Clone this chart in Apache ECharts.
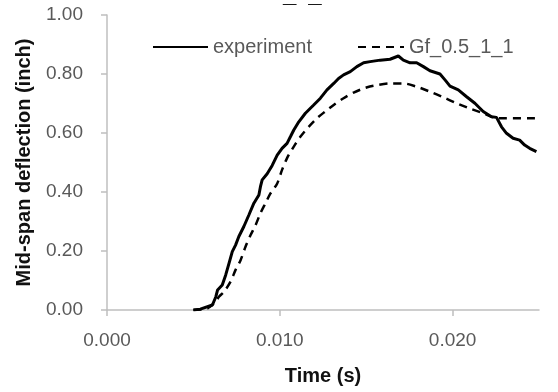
<!DOCTYPE html>
<html>
<head>
<meta charset="utf-8">
<script src="https://cdn.jsdelivr.net/npm/echarts@6/dist/echarts.min.js"></script>
<style>
html,body{margin:0;padding:0;background:#fff;}
#chart{width:558px;height:392px;}
</style>
</head>
<body>
<div id="chart"></div>
<script>
// Time (s) and mid-span deflection (inch)
var expTime = [0.0050, 0.0054, 0.0061, 0.0063, 0.0064, 0.00667, 0.00687, 0.00706, 0.00725, 0.00744, 0.00763, 0.00792, 0.00821, 0.0085, 0.00879, 0.00888, 0.00898, 0.00927, 0.00956, 0.00985, 0.01013, 0.01042, 0.01062, 0.01081, 0.0111, 0.01148, 0.01196, 0.01235, 0.01273, 0.01312, 0.0134, 0.01369, 0.01408, 0.01446, 0.01485, 0.01523, 0.01581, 0.01638, 0.01686, 0.01715, 0.01754, 0.01792, 0.01831, 0.01869, 0.01927, 0.01956, 0.01985, 0.02033, 0.02081, 0.02129, 0.02177, 0.02225, 0.02254, 0.02283, 0.02312, 0.0235, 0.02388, 0.02417, 0.02446, 0.02485];
var expDefl = [0.000, 0.003, 0.017, 0.045, 0.068, 0.085, 0.119, 0.158, 0.198, 0.220, 0.249, 0.283, 0.322, 0.362, 0.390, 0.418, 0.441, 0.462, 0.490, 0.525, 0.548, 0.565, 0.588, 0.610, 0.638, 0.667, 0.695, 0.718, 0.746, 0.768, 0.785, 0.797, 0.808, 0.825, 0.838, 0.842, 0.847, 0.850, 0.861, 0.847, 0.838, 0.838, 0.825, 0.811, 0.800, 0.780, 0.759, 0.746, 0.723, 0.701, 0.673, 0.655, 0.653, 0.621, 0.599, 0.582, 0.576, 0.559, 0.548, 0.537];
var gfTime = [0.0050, 0.0058, 0.0063, 0.00648, 0.00677, 0.00715, 0.00744, 0.00773, 0.00802, 0.00831, 0.0086, 0.00888, 0.00917, 0.00946, 0.00985, 0.01013, 0.01042, 0.01081, 0.0112, 0.01167, 0.01215, 0.01263, 0.01312, 0.01369, 0.01427, 0.01485, 0.01542, 0.01638, 0.01715, 0.01792, 0.01869, 0.01946, 0.02023, 0.021, 0.02177, 0.02235, 0.02292, 0.0250];
var gfDefl = [0.000, 0.005, 0.030, 0.045, 0.062, 0.096, 0.136, 0.169, 0.215, 0.254, 0.288, 0.328, 0.362, 0.395, 0.429, 0.475, 0.515, 0.554, 0.588, 0.621, 0.650, 0.673, 0.695, 0.718, 0.737, 0.751, 0.760, 0.768, 0.768, 0.757, 0.740, 0.721, 0.701, 0.683, 0.667, 0.653, 0.650, 0.650];
var xTicks = [0, 0.01, 0.02];
var yTicks = [0, 0.2, 0.4, 0.6, 0.8, 1.0];
var seriesNames = ['experiment', 'Gf_0.5_1_1'];

function pairs(xs, ys) { return xs.map(function (x, i) { return [x, ys[i]]; }); }

var FONT = '"Liberation Sans", Arial, sans-serif';
var chart = echarts.init(document.getElementById('chart'));
chart.setOption({
  animation: false,
  backgroundColor: '#fff',
  title: {
    text: '_\u2002_', left: 278, top: -22,
    textStyle: { fontFamily: FONT, fontSize: 24, fontWeight: 'bold', color: '#000' }
  },
  grid: { left: 107, right: 19, top: 15, bottom: 82, containLabel: false, outerBoundsMode: 'none' },
  legend: [
    { data: [seriesNames[0]], left: 147, top: 32, itemWidth: 55, itemHeight: 12, itemGap: 0,
      itemStyle: { opacity: 0 },
      textStyle: { fontFamily: FONT, fontSize: 20, color: '#595959' } },
    { data: [seriesNames[1]], left: 352, top: 32, itemWidth: 46, itemHeight: 12, itemGap: 0,
      itemStyle: { opacity: 0 },
      textStyle: { fontFamily: FONT, fontSize: 20, color: '#595959' } }
  ],
  xAxis: {
    type: 'value', min: 0, max: 0.025, interval: 0.01,
    name: 'Time (s)', nameLocation: 'middle', nameGap: 56,
    nameTextStyle: { fontFamily: FONT, fontSize: 20, fontWeight: 'bold', color: '#111' },
    axisLine: { show: true, lineStyle: { color: '#bfbfbf', width: 1.5 } },
    axisTick: { show: true, length: 6, lineStyle: { color: '#bfbfbf', width: 1.5 }, customValues: xTicks },
    axisLabel: { margin: 21, fontFamily: FONT, fontSize: 19, color: '#595959', customValues: xTicks,
      formatter: function (v) { return v.toFixed(3); } },
    splitLine: { show: false }
  },
  yAxis: {
    type: 'value', min: 0, max: 1, interval: 0.2,
    name: 'Mid-span deflection (inch)', nameLocation: 'middle', nameGap: 73,
    nameTextStyle: { fontFamily: FONT, fontSize: 20, fontWeight: 'bold', color: '#111' },
    axisLine: { show: true, lineStyle: { color: '#bfbfbf', width: 1.5 } },
    axisTick: { show: true, length: 6, lineStyle: { color: '#bfbfbf', width: 1.5 } },
    axisLabel: { margin: 24, fontFamily: FONT, fontSize: 19, color: '#595959',
      formatter: function (v) { return v.toFixed(2); } },
    splitLine: { show: false }
  },
  series: [
    { name: seriesNames[0], type: 'line', data: pairs(expTime, expDefl), symbol: 'none', smooth: false,
      lineStyle: { color: '#000', width: 3 }, itemStyle: { color: '#000' }, z: 3 },
    { name: seriesNames[1], type: 'line', data: pairs(gfTime, gfDefl), symbol: 'none', smooth: 0.3,
      lineStyle: { color: '#000', width: 2.5, type: [8, 6] }, itemStyle: { color: '#000' }, z: 2 }
  ]
});
</script>
</body>
</html>
